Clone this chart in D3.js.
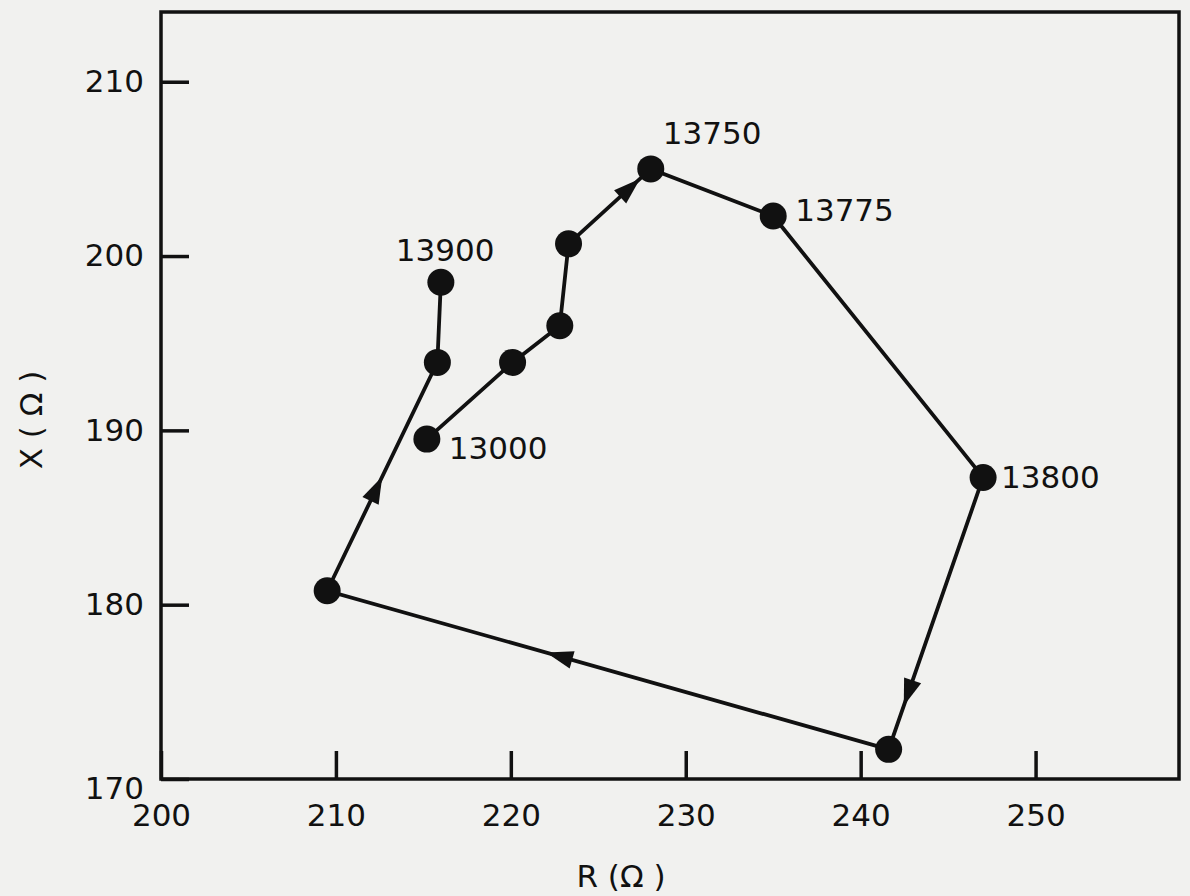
<!DOCTYPE html>
<html>
<head>
<meta charset="utf-8">
<script src="https://cdn.jsdelivr.net/npm/d3@7"></script>
<style>
  body { margin: 0; background: #f1f1ef; }
  svg { display: block; }
  text { font-family: "DejaVu Sans", sans-serif; fill: #111; }
</style>
</head>
<body>
<script>
const w = 1190;
const h = 896;

// path of the impedance locus, in travel order
const rValues = [215.2, 220.1, 222.8, 223.3, 228.0, 235.0, 247.0, 241.6, 209.5, 215.8, 216.0];
const xValues = [189.5, 193.9, 196.0, 200.7, 205.0, 202.3, 187.3, 171.7, 180.8, 193.9, 198.5];
const pointLabels = ["13000", "", "", "", "13750", "13775", "13800", "", "", "", "13900"];

// arrows: segment start index, fraction along the segment where the tip sits
const arrowSegments = [3, 6, 7, 8];
const arrowFractions = [0.87, 0.84, 0.61, 0.5];

const xTicks = [200, 210, 220, 230, 240, 250];
const yTicks = [170, 180, 190, 200, 210];

const plotLeft = 161, plotRight = 1179, plotTop = 12, plotBottom = 779;

const svg = d3.select("body")
  .append("svg")
  .attr("width", w)
  .attr("height", h);

let xScale = d3.scaleLinear()
  .domain([200, 258.2])
  .range([plotLeft, plotRight]);

let yScale = d3.scaleLinear()
  .domain([170, 214])
  .range([plotBottom, plotTop]);

// frame
svg.append("rect")
  .attr("x", plotLeft)
  .attr("y", plotTop)
  .attr("width", plotRight - plotLeft)
  .attr("height", plotBottom - plotTop)
  .attr("fill", "none")
  .attr("stroke", "#111")
  .attr("stroke-width", 3.5);

let xAxis = d3.axisBottom(xScale)
  .tickValues(xTicks)
  .tickSize(-28)
  .tickPadding(25)
  .tickFormat(d3.format("d"));

let xAxisGroup = svg.append("g")
  .attr("transform", `translate(0, ${plotBottom})`)
  .call(xAxis);

let yAxis = d3.axisLeft(yScale)
  .tickValues(yTicks)
  .tickSize(-28)
  .tickPadding(17)
  .tickFormat(d3.format("d"));

let yAxisGroup = svg.append("g")
  .attr("transform", `translate(${plotLeft}, 0)`)
  .call(yAxis);

[xAxisGroup, yAxisGroup].forEach(g => {
  g.select(".domain").remove();
  g.selectAll(".tick line").attr("stroke", "#111").attr("stroke-width", 3.5);
  g.selectAll(".tick text")
    .style("font-size", "31px")
    .style("font-family", "DejaVu Sans, sans-serif")
    .attr("fill", "#111");
});
// the 170 label sits a little below the corner
yAxisGroup.selectAll(".tick text").filter(d => d === 170).attr("dy", "0.62em");

// axis titles
svg.append("text")
  .attr("x", 621)
  .attr("y", 887)
  .attr("text-anchor", "middle")
  .style("font-size", "31px")
  .text("R (\u03A9 )");

svg.append("text")
  .attr("transform", "translate(42, 420) rotate(-90)")
  .attr("text-anchor", "middle")
  .style("font-size", "31px")
  .text("X ( \u03A9 )");

const pts = rValues.map((r, i) => ({ r: r, x: xValues[i], label: pointLabels[i] }));

const line = d3.line()
  .x(d => xScale(d.r))
  .y(d => yScale(d.x));

svg.append("path")
  .datum(pts)
  .attr("d", line)
  .attr("fill", "none")
  .attr("stroke", "#111")
  .attr("stroke-width", 3.8);

// arrowheads
arrowSegments.forEach((s, i) => {
  const a = pts[s], b = pts[s + 1];
  const x0 = xScale(a.r), y0 = yScale(a.x);
  const x1 = xScale(b.r), y1 = yScale(b.x);
  const f = arrowFractions[i];
  const tx = x0 + (x1 - x0) * f;
  const ty = y0 + (y1 - y0) * f;
  const ang = Math.atan2(y1 - y0, x1 - x0) * 180 / Math.PI;
  svg.append("path")
    .attr("d", "M0,0 L-27,-9 L-27,9 Z")
    .attr("transform", `translate(${tx}, ${ty}) rotate(${ang})`)
    .attr("fill", "#111");
});

svg.selectAll("circle.pt")
  .data(pts)
  .enter()
  .append("circle")
  .attr("class", "pt")
  .attr("cx", d => xScale(d.r))
  .attr("cy", d => yScale(d.x))
  .attr("r", 13.5)
  .attr("fill", "#111");

// label offsets relative to each point
const labelDx = { "13000": 22, "13750": 12, "13775": 22, "13800": 18, "13900": -45 };
const labelDy = { "13000": 20, "13750": -25, "13775": 5, "13800": 11, "13900": -21 };

svg.selectAll("text.pl")
  .data(pts.filter(d => d.label !== ""))
  .enter()
  .append("text")
  .attr("class", "pl")
  .attr("x", d => xScale(d.r) + labelDx[d.label])
  .attr("y", d => yScale(d.x) + labelDy[d.label])
  .style("font-size", "31px")
  .text(d => d.label);
</script>
</body>
</html>
